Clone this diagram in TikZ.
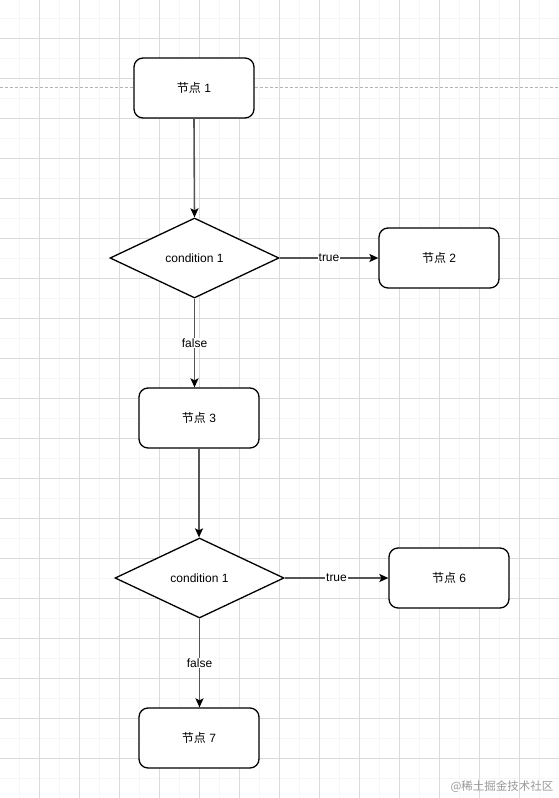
\documentclass[tikz,border=0pt]{standalone}
\usepackage{fontspec}
\setmainfont{Liberation Sans}
\newfontfamily\cjk{Noto Sans CJK SC}
\usetikzlibrary{shapes.geometric,arrows.meta}
\definecolor{gridmajor}{HTML}{DADADA}
\definecolor{gridminor}{HTML}{F6F6F6}
\definecolor{edgegray}{HTML}{555555}
\tikzset{
  every node/.style={font=\fontsize{12}{14}\selectfont},
  procbox/.style={draw=black, line width=1.3pt, fill=white, rounded corners=9pt,
    minimum width=120pt, minimum height=60pt, inner sep=0pt},
  decision/.style={draw=black, line width=1.3pt, fill=white, diamond,
    minimum width=169pt, minimum height=80pt, inner sep=0pt},
  flow/.style={draw=edgegray, line width=1.6pt,
    -{Stealth[length=9pt,width=8pt,inset=2pt,color=black]}},
  elabel/.style={fill=white, inner sep=1pt, text=black},
}
\begin{document}
\begin{tikzpicture}[x=1pt,y=-1pt]
\fill[white] (0,0) rectangle (559,798);
\useasboundingbox (0,0) rectangle (559,798);
% grid
\foreach \x in {19.5,59.5,...,559} \draw[gridminor,line width=0.6pt] (\x,0) -- (\x,798);
\foreach \y in {18,58,...,798} \draw[gridminor,line width=0.6pt] (0,\y) -- (559,\y);
\foreach \x in {39.5,79.5,...,559} \draw[gridmajor,line width=0.8pt] (\x,0) -- (\x,798);
\foreach \y in {38,78,...,798} \draw[gridmajor,line width=0.8pt] (0,\y) -- (559,\y);
% dashed line
\draw[gray!60,dash pattern=on 2.5pt off 2.5pt,line width=0.6pt] (0,87.5) -- (559,87.5);
% nodes
\node[procbox] (n1) at (194,88) {{\cjk 节点} 1};
\node[decision] (d1) at (194.5,258) {condition 1};
\node[procbox] (n2) at (439,258) {{\cjk 节点} 2};
\node[procbox] (n3) at (199,418) {{\cjk 节点} 3};
\node[decision] (d2) at (199.5,578) {condition 1};
\node[procbox] (n6) at (449,578) {{\cjk 节点} 6};
\node[procbox] (n7) at (199,738) {{\cjk 节点} 7};
% edges
\draw[flow] (n1.south) -- (d1.north);
\draw[flow] (d1.east) -- node[elabel] {true} (n2.west);
\draw[flow] (d1.south) -- node[elabel] {false} (d1.south |- n3.north);
\draw[flow] (n3.south) -- (n3.south |- d2.north);
\draw[flow] (d2.east) -- node[elabel] {true} (n6.west);
\draw[flow] (d2.south) -- node[elabel] {false} (d2.south |- n7.north);
% watermark
\node[anchor=east, text=gray!80, font=\cjk\fontsize{11.5}{13}\selectfont] (wm) at (557,787) {@稀土掘金技术社区};
\end{tikzpicture}
\end{document}
